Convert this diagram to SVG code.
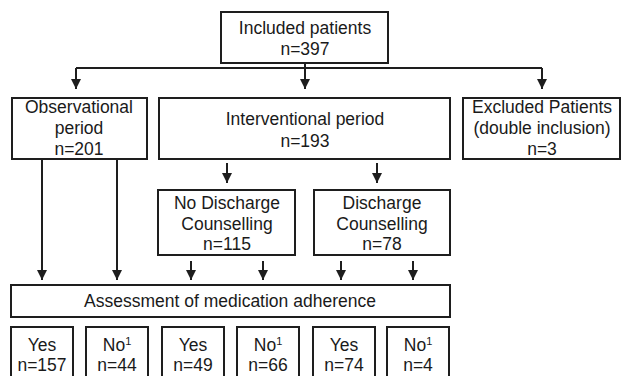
<svg xmlns="http://www.w3.org/2000/svg" width="625" height="376" viewBox="0 0 625 376">
<style>
.box{fill:#fff;stroke:#1e1e1e;stroke-width:2}
.t{font-family:"Liberation Sans",Arial,sans-serif;font-size:17.5px;fill:#1a1a1a;text-anchor:middle}
.c{fill:none;stroke:#1e1e1e;stroke-width:2}
.sup{font-size:11px}
</style>
<defs>
<marker id="ah" markerUnits="userSpaceOnUse" markerWidth="12" markerHeight="12" viewBox="0 0 12 12" refX="10" refY="6" orient="auto">
<path d="M0,1 L10,6 L0,11 Z" fill="#1e1e1e"/>
</marker>
</defs>
<rect width="625" height="376" fill="#fff"/>
<g id="connectors">
<path class="c" d="M305,63 V68 M76,68 H542"/>
<path class="c" d="M76,68 V89" marker-end="url(#ah)"/>
<path class="c" d="M305,68 V89" marker-end="url(#ah)"/>
<path class="c" d="M542,68 V89" marker-end="url(#ah)"/>
<path class="c" d="M227,163 V183" marker-end="url(#ah)"/>
<path class="c" d="M377,163 V183" marker-end="url(#ah)"/>
<path class="c" d="M42,159 V280" marker-end="url(#ah)"/>
<path class="c" d="M117,159 V280" marker-end="url(#ah)"/>
<path class="c" d="M191,261 V280" marker-end="url(#ah)"/>
<path class="c" d="M263,261 V280" marker-end="url(#ah)"/>
<path class="c" d="M341,261 V280" marker-end="url(#ah)"/>
<path class="c" d="M413,261 V280" marker-end="url(#ah)"/>
</g>
<g id="included">
<rect class="box" x="221" y="12" width="167" height="51"/>
<text class="t" x="305" y="34">Included patients</text>
<text class="t" x="305" y="55">n=397</text>
</g>
<g id="observational">
<rect class="box" x="12" y="98" width="135" height="61"/>
<text class="t" x="79" y="113">Observational</text>
<text class="t" x="79" y="134">period</text>
<text class="t" x="79" y="155">n=201</text>
</g>
<g id="interventional">
<rect class="box" x="159" y="98" width="291" height="61"/>
<text class="t" x="305" y="125">Interventional period</text>
<text class="t" x="305" y="147">n=193</text>
</g>
<g id="excluded">
<rect class="box" x="463" y="98" width="157" height="61"/>
<text class="t" x="542" y="113">Excluded Patients</text>
<text class="t" x="542" y="134">(double inclusion)</text>
<text class="t" x="542" y="155">n=3</text>
</g>
<g id="nodischarge">
<rect class="box" x="158" y="190" width="137" height="65"/>
<text class="t" x="227" y="209">No Discharge</text>
<text class="t" x="227" y="230">Counselling</text>
<text class="t" x="227" y="250">n=115</text>
</g>
<g id="discharge">
<rect class="box" x="314" y="190" width="136" height="65"/>
<text class="t" x="382" y="209">Discharge</text>
<text class="t" x="382" y="230">Counselling</text>
<text class="t" x="382" y="250">n=78</text>
</g>
<g id="assessment">
<rect class="box" x="11" y="285" width="439" height="32"/>
<text class="t" x="230" y="307">Assessment of medication adherence</text>
</g>
<g id="yes1">
<rect class="box" x="11" y="327" width="62" height="60"/>
<text class="t" x="42" y="351">Yes</text>
<text class="t" x="42" y="371">n=157</text>
</g>
<g id="no1">
<rect class="box" x="86" y="327" width="62" height="60"/>
<text class="t" x="117" y="351">No<tspan class="sup" dy="-6">1</tspan></text>
<text class="t" x="117" y="371">n=44</text>
</g>
<g id="yes2">
<rect class="box" x="162" y="327" width="62" height="60"/>
<text class="t" x="193" y="351">Yes</text>
<text class="t" x="193" y="371">n=49</text>
</g>
<g id="no2">
<rect class="box" x="237" y="327" width="62" height="60"/>
<text class="t" x="268" y="351">No<tspan class="sup" dy="-6">1</tspan></text>
<text class="t" x="268" y="371">n=66</text>
</g>
<g id="yes3">
<rect class="box" x="313" y="327" width="62" height="60"/>
<text class="t" x="344" y="351">Yes</text>
<text class="t" x="344" y="371">n=74</text>
</g>
<g id="no3">
<rect class="box" x="387" y="327" width="62" height="60"/>
<text class="t" x="418" y="351">No<tspan class="sup" dy="-6">1</tspan></text>
<text class="t" x="418" y="371">n=4</text>
</g>
</svg>
